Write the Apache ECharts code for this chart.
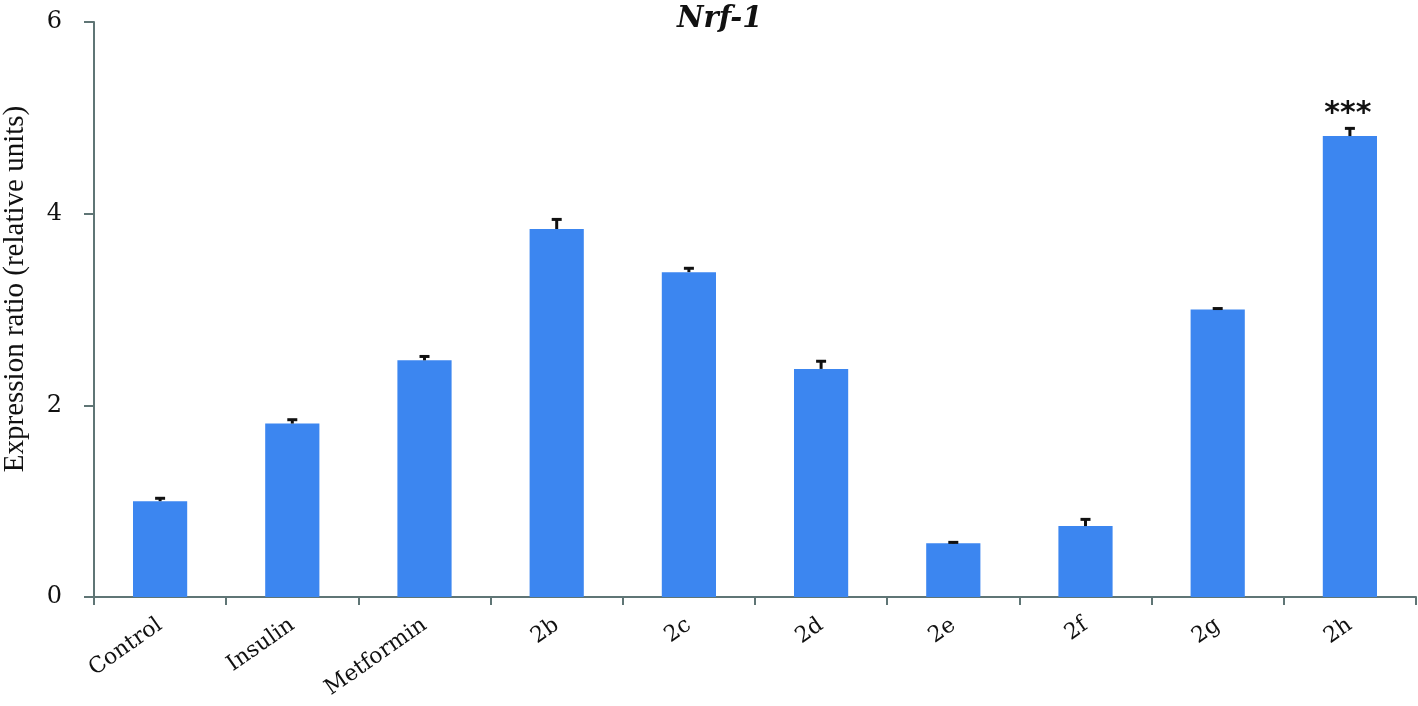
<!DOCTYPE html>
<html>
<head>
<meta charset="utf-8">
<script src="https://cdn.jsdelivr.net/npm/echarts@6/dist/echarts.min.js"></script>
<style>
  html, body { margin: 0; padding: 0; background: #fff; }
  #chart { width: 1418px; height: 706px; }
</style>
</head>
<body>
<div id="chart"></div>
<script>
const categories = ["Control", "Insulin", "Metformin", "2b", "2c", "2d", "2e", "2f", "2g", "2h"];
const expression = [1.0, 1.81, 2.47, 3.84, 3.39, 2.38, 0.56, 0.74, 3.0, 4.81];
const errors = [0.03, 0.04, 0.04, 0.10, 0.04, 0.08, 0.01, 0.07, 0.01, 0.08];
const significance = ["", "", "", "", "", "", "", "", "", "***"];
const yTicks = [0, 2, 4, 6];

const axisColor = "#5f7575";
const barColor = "#3c86f0";

const chart = echarts.init(document.getElementById("chart"));

const errData = expression.map((v, i) => [i, v, v + errors[i]]);

chart.setOption({
    animation: false,
    title: {
        text: "Nrf-1",
        left: 672,
        top: 0,
        textStyle: {
            fontFamily: "DejaVu Serif",
            fontStyle: "italic",
            fontWeight: "bold",
            fontSize: 29,
            color: "#111",
        },
    },
    graphic: [
        {
            // y axis title, sits a bit above the axis middle like the original
            type: "text",
            x: 15,
            y: 289,
            rotation: Math.PI / 2,
            style: {
                text: "Expression ratio (relative units)",
                align: "center",
                verticalAlign: "middle",
                font: "29px 'Liberation Serif'",
                fill: "#111",
            },
        },
    ],
    grid: { left: 94, right: 2, top: 22, bottom: 109, outerBoundsMode: "none" },
    xAxis: {
        type: "category",
        data: categories,
        axisLine: { lineStyle: { color: axisColor, width: 2 } },
        axisTick: { show: true, length: 8, lineStyle: { color: axisColor, width: 2 } },
        axisLabel: {
            rotate: 35,
            margin: 26,
            fontFamily: "DejaVu Serif",
            fontSize: 22,
            color: "#111",
        },
    },
    yAxis: {
        type: "value",
        min: 0,
        max: yTicks[yTicks.length - 1],
        interval: 2,
        axisLine: { show: true, lineStyle: { color: axisColor, width: 2 } },
        axisTick: { show: true, length: 10, lineStyle: { color: axisColor, width: 2 } },
        splitLine: { show: false },
        axisLabel: {
            margin: 32,
            fontFamily: "DejaVu Serif",
            fontSize: 24,
            color: "#111",
        },
    },
    series: [
        {
            type: "bar",
            data: expression,
            barWidth: "41%",
            itemStyle: { color: barColor },
        },
        {
            type: "custom",
            data: errData,
            z: 10,
            renderItem: function (params, api) {
                const base = api.coord([api.value(0), api.value(1)]);
                const top = api.coord([api.value(0), api.value(2)]);
                const half = 5;
                const children = [
                    {
                        type: "line",
                        shape: { x1: base[0], y1: base[1], x2: top[0], y2: top[1] },
                        style: { stroke: "#111", lineWidth: 3 },
                    },
                    {
                        type: "line",
                        shape: { x1: top[0] - half, y1: top[1], x2: top[0] + half, y2: top[1] },
                        style: { stroke: "#111", lineWidth: 3 },
                    },
                ];
                const mark = significance[params.dataIndex];
                if (mark) {
                    children.push({
                        type: "text",
                        x: top[0] - 2,
                        y: top[1] + 1,
                        style: {
                            text: mark,
                            align: "center",
                            verticalAlign: "bottom",
                            font: "bold 30px 'DejaVu Sans'",
                            fill: "#111",
                        },
                    });
                }
                return { type: "group", children: children };
            },
        },
    ],
});
</script>
</body>
</html>
